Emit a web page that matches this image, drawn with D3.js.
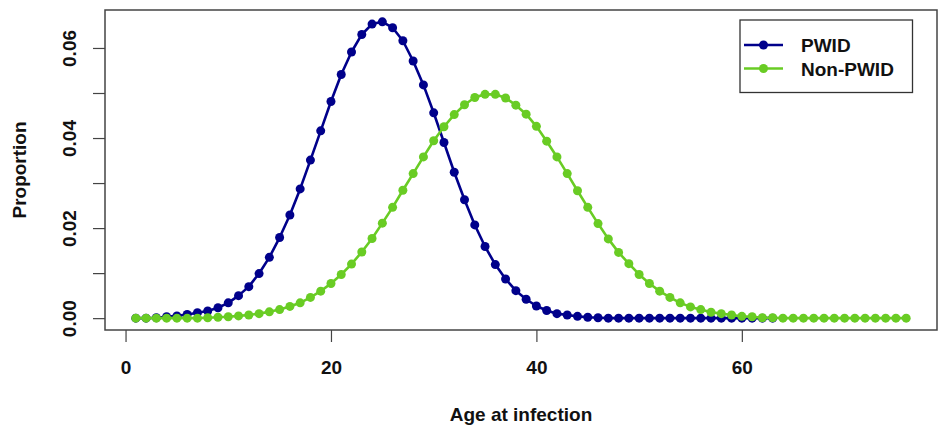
<!DOCTYPE html>
<html>
<head>
<meta charset="utf-8">
<script src="https://cdn.jsdelivr.net/npm/d3@7"></script>
<style>
  html, body { margin: 0; padding: 0; background: #fff; }
  svg { display: block; }
  text { font-family: "Liberation Sans", Arial, Helvetica, sans-serif; font-weight: bold; fill: #111; }
</style>
</head>
<body>
<svg id="chart" width="938" height="426"></svg>
<script>
// ---- data ----
const agesPWID = [1,2,3,4,5,6,7,8,9,10,11,12,13,14,15,16,17,18,19,20,21,22,23,24,25,26,27,28,29,30,31,32,33,34,35,36,37,38,39,40,41,42,43,44,45,46,47,48,49,50,51,52,53,54,55,56,57,58,59,60,61,62,63];
const pwid = [0.0000,0.0000,0.0001,0.0003,0.0005,0.0008,0.0012,0.0016,0.0023,0.0034,0.0050,0.0070,0.0099,0.0135,0.0179,0.0229,0.0287,0.0351,0.0416,0.0481,0.0541,0.0591,0.0630,0.0653,0.0658,0.0645,0.0616,0.0571,0.0518,0.0456,0.0390,0.0324,0.0263,0.0207,0.0159,0.0119,0.0087,0.0061,0.0042,0.0027,0.0017,0.0010,0.0007,0.0004,0.0002,0.0001,0,0,0,0,0,0,0,0,0,0,0,0,0,0,0,0,0];

const agesNon = [1,2,3,4,5,6,7,8,9,10,11,12,13,14,15,16,17,18,19,20,21,22,23,24,25,26,27,28,29,30,31,32,33,34,35,36,37,38,39,40,41,42,43,44,45,46,47,48,49,50,51,52,53,54,55,56,57,58,59,60,61,62,63,64,65,66,67,68,69,70,71,72,73,74,75,76];
const nonPwid = [0,0,0,0,0,0,0,0.0001,0.0002,0.0003,0.0005,0.0007,0.0010,0.0014,0.0019,0.0026,0.0034,0.0046,0.0060,0.0077,0.0097,0.0120,0.0147,0.0177,0.0211,0.0246,0.0284,0.0321,0.0358,0.0394,0.0425,0.0452,0.0474,0.0490,0.0497,0.0497,0.0489,0.0473,0.0453,0.0426,0.0393,0.0358,0.0321,0.0283,0.0246,0.0210,0.0176,0.0146,0.0121,0.0097,0.0077,0.0060,0.0046,0.0034,0.0025,0.0019,0.0013,0.0010,0.0007,0.0004,0.0003,0.0001,0.0001,0,0,0,0,0,0,0,0,0,0,0,0,0];

const xTicks = [0, 20, 40, 60];
const yTicks = [0, 0.01, 0.02, 0.03, 0.04, 0.05, 0.06];
const yTickLabels = ["0.00", "", "0.02", "", "0.04", "", "0.06"];
const seriesNames = ["PWID", "Non-PWID"];
const seriesColors = ["#00008B", "#69CC24"];
const xLabel = "Age at infection";
const yLabel = "Proportion";

// ---- layout ----
const svg = d3.select("#chart");
const L = 105, R = 937, T = 10, B = 330;
const FS = 19;

// R-style 4% range extension
function ext(lo, hi) { const d = (hi - lo) * 0.04; return [lo - d, hi + d]; }
const allX = agesPWID.concat(agesNon);
const allY = pwid.concat(nonPwid);
const x = d3.scaleLinear().domain(ext(d3.min(allX), d3.max(allX))).range([L, R]);
const y = d3.scaleLinear().domain(ext(d3.min(allY), d3.max(allY))).range([B, T]);

// x axis
const gx = svg.append("g").attr("transform", `translate(0,${B})`)
  .call(d3.axisBottom(x).tickValues(xTicks).tickSize(12).tickSizeOuter(0).tickFormat(d3.format("d")));
gx.select(".domain").remove();
gx.selectAll(".tick line").attr("stroke", "#444").attr("stroke-width", 1.2);
gx.selectAll(".tick text").attr("y", 43.5).attr("dy", null)
  .style("font-size", FS + "px").style("font-family", "Liberation Sans, Arial, sans-serif").style("font-weight", "bold").attr("fill", "#111");

// y axis
const gy = svg.append("g").attr("transform", `translate(${L},0)`)
  .call(d3.axisLeft(y).tickValues(yTicks).tickSize(12).tickSizeOuter(0).tickFormat((d, i) => yTickLabels[i]));
gy.select(".domain").remove();
gy.selectAll(".tick line").attr("stroke", "#444").attr("stroke-width", 1.2);
gy.selectAll(".tick text")
  .attr("x", null).attr("dy", null)
  .attr("text-anchor", "middle")
  .attr("transform", "translate(-29,0) rotate(-90)")
  .style("font-size", FS + "px").style("font-family", "Liberation Sans, Arial, sans-serif").style("font-weight", "bold").attr("fill", "#111");

// axis titles
svg.append("text").attr("x", (L + R) / 2).attr("y", 421).attr("text-anchor", "middle")
  .style("font-size", FS + "px").text(xLabel);
svg.append("text").attr("transform", `translate(26,${(T + B) / 2}) rotate(-90)`).attr("text-anchor", "middle")
  .style("font-size", FS + "px").text(yLabel);

// series
const series = [
  { ages: agesPWID, vals: pwid, color: seriesColors[0] },
  { ages: agesNon, vals: nonPwid, color: seriesColors[1] }
];
const line = d3.line().x(d => x(d[0])).y(d => y(d[1]));
series.forEach(s => {
  const pts = s.ages.map((a, i) => [a, s.vals[i]]);
  const g = svg.append("g");
  g.append("path").datum(pts).attr("d", line).attr("fill", "none")
    .attr("stroke", s.color).attr("stroke-width", 2.6).attr("stroke-linejoin", "round");
  g.selectAll("circle").data(pts).join("circle")
    .attr("cx", d => x(d[0])).attr("cy", d => y(d[1])).attr("r", 4.5).attr("fill", s.color);
});

// plot box
svg.append("rect").attr("x", L).attr("y", T).attr("width", R - L).attr("height", B - T)
  .attr("fill", "none").attr("stroke", "#444").attr("stroke-width", 1.5);

// legend
const lg = svg.append("g");
lg.append("rect").attr("x", 740).attr("y", 20).attr("width", 172.5).attr("height", 72.5)
  .attr("fill", "#fff").attr("stroke", "#333").attr("stroke-width", 1.3);
seriesNames.forEach((name, i) => {
  const yy = 45 + i * 23.5;
  lg.append("line").attr("x1", 744).attr("x2", 783).attr("y1", yy).attr("y2", yy)
    .attr("stroke", seriesColors[i]).attr("stroke-width", 2.6);
  lg.append("circle").attr("cx", 763.5).attr("cy", yy).attr("r", 4.5).attr("fill", seriesColors[i]);
  lg.append("text").attr("x", 801).attr("y", yy + 7).style("font-size", FS + "px").text(name);
});
</script>
</body>
</html>
